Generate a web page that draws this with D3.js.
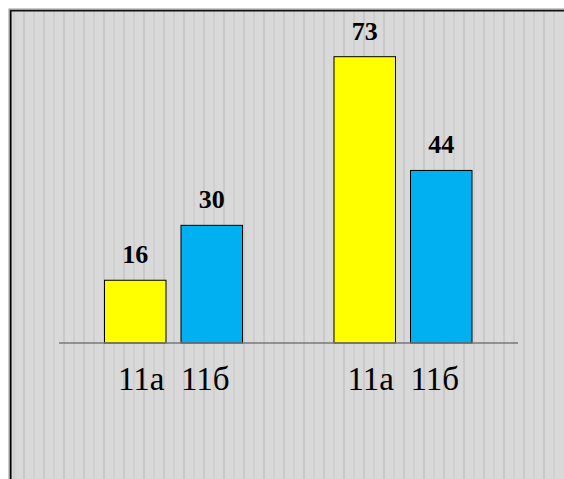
<!DOCTYPE html>
<html><head><meta charset="utf-8">
<script src="https://cdn.jsdelivr.net/npm/d3@7"></script>
<style>html,body{margin:0;padding:0;background:#fff;}svg{display:block;}</style>
</head><body>
<svg id="chart" width="564" height="479"></svg>
<script>
const groups = ["g1", "g2"];
const groupLabels = ["11а  11б", "11а  11б"];
const seriesNames = ["11а", "11б"];
const seriesColors = ["#ffff00", "#00b0f0"];
const values = [[16, 30], [73, 44]];

const svg = d3.select("#chart");
const W = 564, H = 479;

// frame background
const fx = 10, fy = 10;
svg.append("rect").attr("x", fx - 1.5).attr("y", fy - 1.5).attr("width", W).attr("height", H).attr("fill", "#9a9a9a");
svg.append("rect").attr("x", fx).attr("y", fy).attr("width", W).attr("height", H).attr("fill", "#d9d9d9");
const stripes = d3.range(14, W, 10);
svg.append("g").selectAll("line").data(stripes).join("line")
  .attr("x1", d => d).attr("x2", d => d).attr("y1", fy).attr("y2", H)
  .attr("stroke", (d, i) => i % 2 ? "#c6c6c6" : "#cdcdcd").attr("stroke-width", 1.6);
svg.append("line").attr("x1", fx + 0.75).attr("x2", fx + 0.75).attr("y1", fy).attr("y2", H).attr("stroke", "#000").attr("stroke-width", 1.6);
svg.append("line").attr("x1", fx).attr("x2", W).attr("y1", fy + 0.75).attr("y2", fy + 0.75).attr("stroke", "#111").attr("stroke-width", 1.6);

const x0 = d3.scaleBand().domain(groups).range([59, 518]);
const x1 = d3.scaleBand().domain(seriesNames).range([45.5, 183.5]).paddingInner(0.196);
const y = d3.scaleLinear().domain([0, 80]).range([343, 343 - 80 * 3.922]);

const g = svg.append("g");
groups.forEach((grp, gi) => {
  seriesNames.forEach((s, si) => {
    const v = values[gi][si];
    const bx = x0(grp) + x1(s);
    g.append("rect")
      .attr("x", bx).attr("y", y(v))
      .attr("width", x1.bandwidth()).attr("height", y(0) - y(v))
      .attr("fill", seriesColors[si]).attr("stroke", "#000").attr("stroke-width", 1);
    g.append("text")
      .attr("x", bx + x1.bandwidth() / 2).attr("y", y(v) - 17)
      .attr("text-anchor", "middle")
      .attr("font-family", "'Liberation Serif', 'DejaVu Serif', serif")
      .attr("font-weight", "bold").attr("font-size", 26)
      .attr("fill", "#000").text(v);
  });
});

// baseline axis
const axis = d3.axisBottom(x0).tickSize(0).tickFormat((d, i) => groupLabels[i]);
const ax = svg.append("g").attr("transform", `translate(0,${y(0)})`).call(axis);
ax.select(".domain").attr("stroke", "#777").attr("stroke-width", 1.5).attr("d", "M59,0H518");
ax.selectAll(".tick text")
  .attr("y", 47).attr("dy", 0)
  .attr("font-family", "'Liberation Serif', 'DejaVu Serif', serif")
  .attr("font-size", 33).attr("fill", "#000")
  .style("white-space", "pre");
</script>
</body></html>
